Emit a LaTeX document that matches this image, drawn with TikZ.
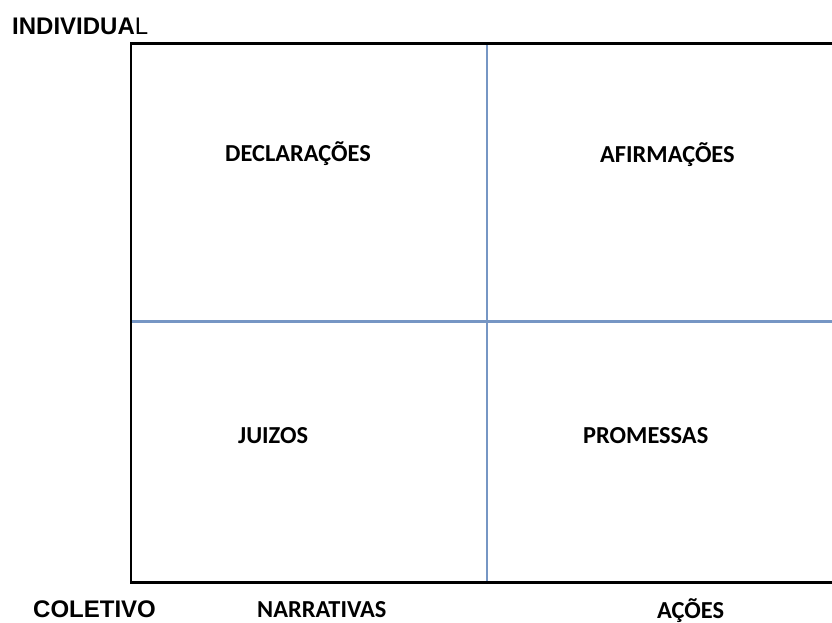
\documentclass[tikz,border=0pt]{standalone}
\usepackage{fontspec}
\setmainfont{Carlito}
\newfontfamily\arialfont{Liberation Sans}
\definecolor{gridblue}{RGB}{118,150,196}
\tikzset{
  lbl/.style={inner sep=0pt, anchor=base west, font=\fontsize{24.4}{28}\selectfont\bfseries},
  axlbl/.style={inner sep=0pt, anchor=base west, font=\fontsize{24}{28}\selectfont\arialfont},
  frame/.style={line width=2.4pt, black},
  divider/.style={line width=2.4pt, gridblue}
}
\begin{document}
\begin{tikzpicture}[x=1pt,y=-1pt]
\useasboundingbox[fill=white] (0,0) rectangle (832,623);
\coordinate (tl) at (131,43.5);
\coordinate (tr) at (832,43.5);
\coordinate (bl) at (131,582.5);
\coordinate (br) at (832,582.5);
\coordinate (vt) at (487,43.5);
\coordinate (vb) at (487,582.5);
\coordinate (hl) at (131,321.5);
\coordinate (hr) at (832,321.5);
\draw[divider] (hl) -- (hr);
\draw[divider] (vt) -- (vb);
\draw[frame, line cap=rect] (tr) -- (tl) -- (bl) -- (br);
\node[axlbl] (ind) at (12,35) {\textbf{INDIVIDUA}L};
\node[axlbl] (col) at (33,617) {\textbf{COLETIVO}};
\node[lbl] (dec) at (225,161.7) {DECLARAÇÕES};
\node[lbl] (afi) at (600,162) {AFIRMAÇÕES};
\node[lbl] (jui) at (238,443) {JUIZOS};
\node[lbl] (pro) at (583,443) {PROMESSAS};
\node[lbl] (nar) at (257,617) {NARRATIVAS};
\node[lbl] (aco) at (657,618.5) {AÇÕES};
\end{tikzpicture}
\end{document}
